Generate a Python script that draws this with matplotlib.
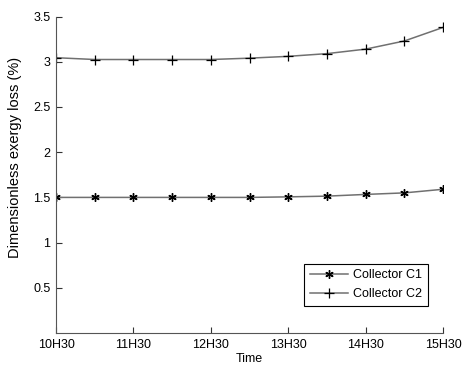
import numpy as np
import matplotlib
matplotlib.use('Agg')
import matplotlib.pyplot as plt

plt.rcParams['font.family'] = ['Liberation Sans', 'DejaVu Sans']

# half-hour steps from 10H30 to 15H30
steps = np.arange(11)
c1 = [1.50, 1.50, 1.50, 1.50, 1.50, 1.50, 1.506, 1.514, 1.533, 1.55, 1.59]
c2 = [3.045, 3.025, 3.025, 3.025, 3.025, 3.04, 3.06, 3.09, 3.14, 3.23, 3.38]

tick_pos = [0, 2, 4, 6, 8, 10]
tick_labels = ['10H30', '11H30', '12H30', '13H30', '14H30', '15H30']

fig = plt.figure(figsize=(4.63, 3.68), dpi=100)
ax = fig.add_axes([0.121, 0.095, 0.836, 0.86])

line_col = '#707070'
ax.plot(steps, c1, color=line_col, lw=1.1, marker=(6, 2, 0), ms=6,
        mec='black', mew=1.0, label='Collector C1')
ax.plot(steps, c2, color=line_col, lw=1.1, marker='+', ms=7,
        mec='black', mew=0.9, label='Collector C2')

ax.set_xlim(0, 10)
ax.set_ylim(0, 3.5)
ax.set_xticks(tick_pos)
ax.set_xticklabels(tick_labels)
ax.set_yticks([0.5, 1, 1.5, 2, 2.5, 3, 3.5])
ax.set_yticklabels(['0.5', '1', '1.5', '2', '2.5', '3', '3.5'])
ax.tick_params(direction='in', length=4, width=0.8, labelsize=9, colors='#333333',
               labelcolor='black', pad=4)
ax.spines['top'].set_visible(False)
ax.spines['right'].set_visible(False)
for s in ['left', 'bottom']:
    ax.spines[s].set_color('#555555')
    ax.spines[s].set_linewidth(0.8)

ax.set_xlabel('Time', fontsize=9, labelpad=2)
ax.set_ylabel('Dimensionless exergy loss (%)', fontsize=10.5)
ax.yaxis.set_label_coords(-0.088, 0.555)

leg = ax.legend(loc='lower right', bbox_to_anchor=(0.961, 0.086), fontsize=9,
                frameon=True, fancybox=False, edgecolor='black', framealpha=1,
                handlelength=3.05, borderpad=0.45, labelspacing=0.55,
                handletextpad=0.45, borderaxespad=0)
leg.get_frame().set_linewidth(0.8)

fig.savefig('out.png', dpi=100)
